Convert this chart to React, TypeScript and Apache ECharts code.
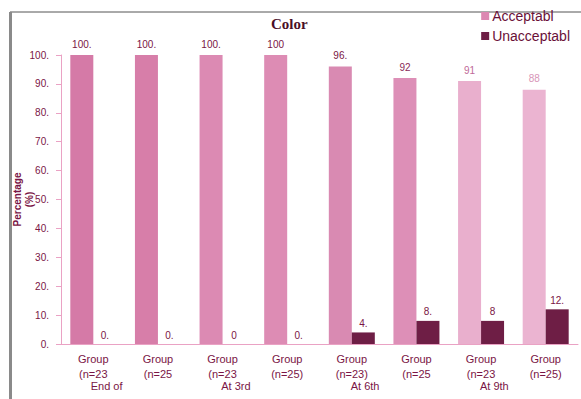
import React, { useEffect, useRef } from "react";
import * as echarts from "echarts";

const groupLabels = [
  "Group\n(n=23",
  "Group\n(n=25",
  "Group\n(n=23",
  "Group\n(n=25)",
  "Group\n(n=23)",
  "Group\n(n=25",
  "Group\n(n=23",
  "Group\n(n=25)",
];
const periodLabels = ["End of", "At 3rd", "At 6th", "At 9th"];
const acceptable = [100, 100, 100, 100, 96, 92, 91, 88];
const unacceptable = [0, 0, 0, 0, 4, 8, 8, 12];
const acceptableText = ["100.", "100.", "100.", "100", "96.", "92", "91", "88"];
const unacceptableText = ["0.", "0.", "0", "0.", "4.", "8.", "8", "12."];
const yTicks = [0, 10, 20, 30, 40, 50, 60, 70, 80, 90, 100];

const accColors = ["#d57aa7", "#d77ea9", "#dc8ab3", "#dd8cb4", "#d98ab2", "#dd8fb7", "#e9afcd", "#ebb4d1"];
const accLabelColors = ["#7a1545", "#7a1545", "#7a1545", "#7a1545", "#7a1545", "#8a2a5a", "#c06a98", "#d895b8"];

export default function App() {
  const ref = useRef<HTMLDivElement>(null);
  useEffect(() => {
    const chart = echarts.init(ref.current!, undefined, { renderer: "svg" });
    const pink = "#eaa2c4";
    chart.setOption({
      animation: false,
      backgroundColor: "#ffffff",
      title: {
        text: "Color",
        left: 266,
        top: 11,
        textStyle: { fontFamily: "Liberation Serif", fontWeight: "bold", fontSize: 15, color: "#4a0f28" },
      },
      legend: {
        orient: "vertical",
        right: 6,
        top: 4,
        itemWidth: 8,
        itemHeight: 8,
        itemGap: 6,
        icon: "rect",
        textStyle: { fontFamily: "Liberation Sans", fontSize: 14, color: "#6a1038", padding: [0, 0, 0, -2] },
        data: ["Acceptabl", "Unacceptabl"],
      },
      graphic: [
        { type: "line", shape: { x1: 10, y1: 12, x2: 581, y2: 12 }, style: { stroke: "#555", lineWidth: 1 } },
        { type: "rect", shape: { x: 9, y: 12, width: 3, height: 387 }, style: { fill: "#8a8a8a" } },
      ],
      grid: { left: 61, right: 3, top: 55, bottom: 55, outerBoundsMode: "none", containLabel: false },
      xAxis: [
        {
          type: "category",
          data: groupLabels,
          axisLine: { lineStyle: { color: pink } },
          axisTick: { length: 31, lineStyle: { color: pink } },
          axisLabel: {
            interval: 0,
            margin: 7,
            fontFamily: "Liberation Sans",
            fontSize: 11,
            lineHeight: 15,
            color: "#7a1545",
          },
        },
        {
          type: "category",
          position: "bottom",
          data: periodLabels,
          axisLine: { show: false },
          axisTick: { length: 48, lineStyle: { color: pink } },
          axisLabel: {
            interval: 0,
            margin: 36,
            padding: [0, 38, 0, 0],
            fontFamily: "Liberation Sans",
            fontSize: 11,
            color: "#7a1545",
          },
        },
      ],
      yAxis: {
        type: "value",
        min: 0,
        max: 100,
        interval: 10,
        name: "Percentage\n(%)",
        nameLocation: "middle",
        nameGap: 26,
        nameMoveOverlap: false,
        nameRotate: 90,
        nameTextStyle: { fontFamily: "Liberation Sans", fontWeight: "bold", fontSize: 10, color: "#7a1545", lineHeight: 12 },
        axisLine: { show: true, lineStyle: { color: pink } },
        axisTick: { show: true, length: 5, lineStyle: { color: pink } },
        splitLine: { show: false },
        axisLabel: {
          margin: 12,
          fontFamily: "Liberation Sans",
          fontSize: 10,
          color: "#7a1545",
          formatter: (v: number) => (yTicks.includes(v) ? v + "." : ""),
        },
      },
      series: [
        {
          name: "Acceptabl",
          type: "bar",
          xAxisIndex: 0,
          barWidth: 23,
          barGap: "0%",
          itemStyle: { color: "#dc88b2" },
          data: acceptable.map((v, i) => ({
            value: v,
            itemStyle: { color: accColors[i] },
            label: { color: accLabelColors[i] },
          })),
          label: {
            show: true,
            position: "top",
            distance: 6,
            fontFamily: "Liberation Sans",
            fontSize: 10,
            formatter: (p: any) => acceptableText[p.dataIndex],
          },
        },
        {
          name: "Unacceptabl",
          type: "bar",
          xAxisIndex: 0,
          barWidth: 23,
          barGap: "0%",
          itemStyle: { color: "#6e1e45" },
          data: unacceptable,
          label: {
            show: true,
            position: "top",
            distance: 4,
            fontFamily: "Liberation Sans",
            fontSize: 10,
            color: "#7a1545",
            formatter: (p: any) => unacceptableText[p.dataIndex],
          },
        },
      ],
    });
    return () => chart.dispose();
  }, []);
  return <div ref={ref} style={{ position: "fixed", left: 0, top: 0, width: 581, height: 399 }} />;
}
